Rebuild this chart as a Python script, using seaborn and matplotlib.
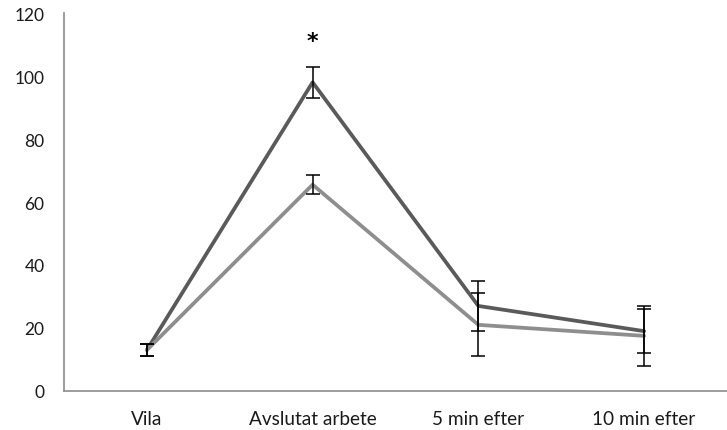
import numpy as np
import pandas as pd
import matplotlib
matplotlib.use("Agg")
import matplotlib.pyplot as plt
import seaborn as sns

categories = ["Vila", "Avslutat arbete", "5 min efter", "10 min efter"]
dark_values = [13, 98, 27, 19]
dark_err = [2, 5, 8, 7]
light_values = [13, 65.5, 21, 17.5]
light_err = [2, 3, 10, 9.5]
y_ticks = [0, 20, 40, 60, 80, 100, 120]

DARK = "#5a5a5a"
LIGHT = "#8e8e8e"
AXIS = "#8c8c8c"


def build_frame():
    """Long-form table for seaborn."""
    rows = []
    for name, vals in (("dark", dark_values), ("light", light_values)):
        for i, v in enumerate(vals):
            rows.append({"pos": i, "value": v, "series": name})
    return pd.DataFrame(rows)


def main():
    sns.set_style("white")
    plt.rcParams["font.family"] = ["Lato", "DejaVu Sans"]

    fig = plt.figure(figsize=(7.27, 4.31), dpi=100)
    ax = fig.add_axes([0.088, 0.0905, 0.912, 0.877])

    df = build_frame()
    sns.lineplot(data=df, x="pos", y="value", hue="series",
                 palette={"dark": DARK, "light": LIGHT},
                 linewidth=2.7, legend=False, ax=ax, zorder=2)

    pos = np.arange(len(categories))
    for vals, errs in ((dark_values, dark_err), (light_values, light_err)):
        ax.errorbar(pos, vals, yerr=errs, fmt="none", ecolor="black",
                    elinewidth=1.1, capsize=5, capthick=1.1, zorder=3)

    # significance marker
    ax.text(1, 111.7, "*", ha="center", va="center_baseline", fontsize=16,
            fontweight="bold", color="black", family="DejaVu Sans")

    ax.set_xlim(-0.5, 3.42)
    ax.set_ylim(0, 120)
    ax.set_yticks(y_ticks)
    ax.set_xticks(pos)
    ax.set_xticklabels(categories)
    ax.set_xticks(np.arange(-0.5, 3.6, 1), minor=True)
    ax.set_xlabel("")
    ax.set_ylabel("")

    for side in ("top", "right"):
        ax.spines[side].set_visible(False)
    for side in ("left", "bottom"):
        ax.spines[side].set_color(AXIS)
        ax.spines[side].set_linewidth(1.2)

    ax.tick_params(axis="y", which="major", direction="out", length=5,
                   color=AXIS, width=1.2, labelsize=12.5, pad=9,
                   labelcolor="#1a1a1a")
    ax.tick_params(axis="x", which="major", length=0, labelsize=13.7, pad=14,
                   labelcolor="#1a1a1a")
    ax.tick_params(axis="x", which="minor", direction="out", length=4,
                   color=AXIS, width=1.2)

    fig.savefig("out.png", dpi=100)


if __name__ == "__main__":
    main()
